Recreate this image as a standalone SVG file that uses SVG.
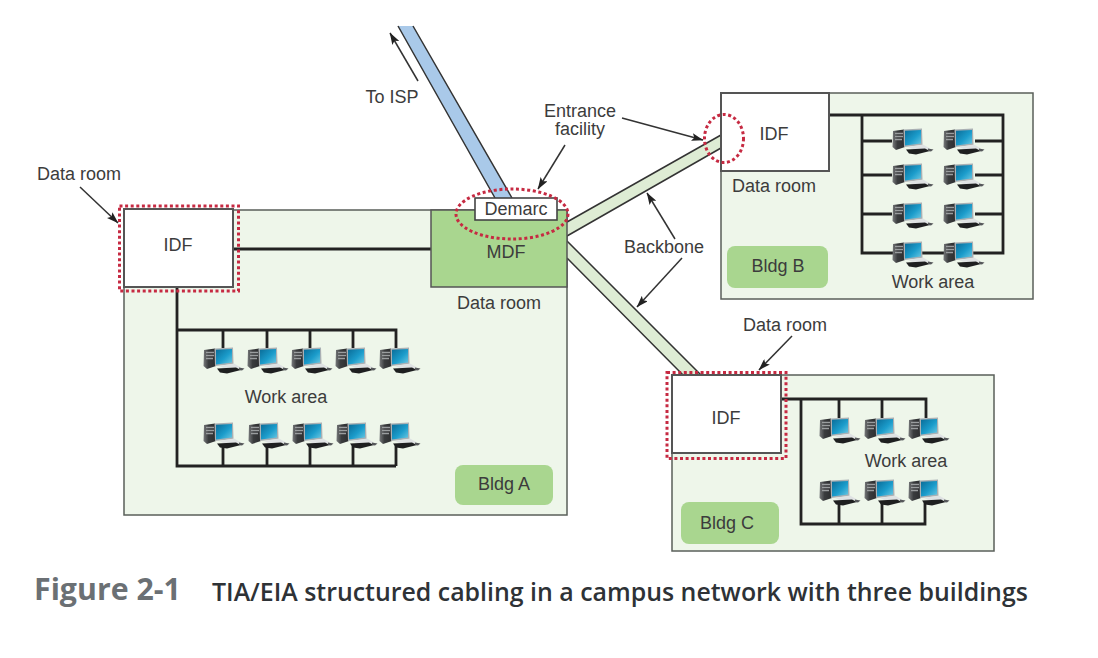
<svg xmlns="http://www.w3.org/2000/svg" xmlns:xlink="http://www.w3.org/1999/xlink" width="1098" height="658" viewBox="0 0 1098 658">
<style>
text{font-family:"Liberation Sans",Arial,sans-serif;font-size:18px;fill:#3c3c3c;text-anchor:middle}
.bldg{fill:#eef6ea;stroke:#5a5f5a;stroke-width:1.5}
.room{fill:#fff;stroke:#555;stroke-width:2}
.tag{fill:#a9d68f}
.bus{fill:none;stroke:#222;stroke-width:2.8}
.edge{stroke:#333;stroke-width:1.5;fill:none}
.arrow{stroke:#333;stroke-width:1.5;fill:none;marker-end:url(#ah)}
.dots{fill:none;stroke:#c62a42;stroke-width:3;stroke-dasharray:3 2.6}
.cap{font-family:"Open Sans","Noto Sans",sans-serif;text-anchor:start;font-weight:700}
</style>
<defs>
<marker id="ah" viewBox="0 0 12 8" refX="11.5" refY="4" markerWidth="12" markerHeight="8" markerUnits="userSpaceOnUse" orient="auto"><path d="M0 0L12 4L0 8L2.5 4Z" fill="#222"/></marker>
<linearGradient id="scr" x1="0" y1="0" x2="1" y2="1"><stop offset="0" stop-color="#0a6c98"/><stop offset="0.55" stop-color="#1b9ccb"/><stop offset="1" stop-color="#6cc9e3"/></linearGradient>
<linearGradient id="twr" x1="0" y1="0" x2="1" y2="0"><stop offset="0" stop-color="#77797b"/><stop offset="0.4" stop-color="#3a3c3e"/><stop offset="1" stop-color="#2c2d2f"/></linearGradient>
<g id="pc">
<path d="M1 3L12 1.500L13 19L4 22L0.500 19Z" fill="url(#twr)"/>
<path d="M3 5.500H11M3 8.500H11M3 11.500H10" stroke="#9a9d9f" stroke-width="1.300"/>
<path d="M11.500 1.500L30 0.500L30.500 17L12 19Z" fill="#aab0b4"/>
<path d="M13 2.800L29 2V15.500L13 17.500Z" fill="url(#scr)"/>
<path d="M16 19L31 16.500L38 20.500L26 23.500Z" fill="#dfe2e3"/>
<path d="M14 21.500L33 20.500L38 23L24 26.500L17 25.500Z" fill="#1e1f20"/>
<path d="M36 20.500L41.500 21.500L39 23.500L36 23Z" fill="#55575a"/>
</g>
</defs>
<rect width="1098" height="658" fill="#fff"/>

<g id="bldg-a"><rect class="bldg" x="124" y="210" width="443" height="305"/><rect class="tag" x="455" y="465" width="98" height="40" rx="8"/><text x="504" y="490">Bldg A</text><text x="499" y="309">Data room</text><text x="286" y="403">Work area</text></g>
<g id="bldg-b"><rect class="bldg" x="721" y="93" width="312" height="206"/><rect class="tag" x="727" y="246" width="101" height="42" rx="8"/><text x="778" y="272">Bldg B</text><text x="774" y="192">Data room</text><text x="933" y="288">Work area</text></g>
<g id="bldg-c"><rect class="bldg" x="672" y="375" width="322" height="176"/><rect class="tag" x="681" y="502" width="98" height="42" rx="8"/><text x="727" y="529">Bldg C</text><text x="906" y="467">Work area</text></g>

<g id="connectors">
<polygon points="398,26 413,26 512,198 495,198" fill="#a9c9e9"/>
<path class="edge" d="M398 26L495 198M413 26L512 198"/>
<polygon points="567,222 721,135 721,148 567,236" fill="#deecd4"/>
<path class="edge" d="M567 222L721 135M567 236L721 148"/>
<polygon points="567,241 701,375 683,375 567,258" fill="#deecd4"/>
<path class="edge" d="M567 241L701 375M567 258L683 375"/>
<path class="bus" d="M233 249H431"/>
<path class="bus" d="M177 287V466H396M223 466V445M267 466V445M310 466V445M353 466V445M396 466V445"/>
<path class="bus" d="M177 330H396V348M223 330V348M267 330V348M310 330V348M353 330V348"/>
<path class="bus" d="M829 115H1003V253H862V115M862 141H892M862 175H892M862 214H892M975 141H1003M975 175H1003M975 214H1003"/>
<path class="bus" d="M781 399H926V418M801 399V524H925V502M839 399V418M882 399V418M839 524V502M882 524V502"/>
<path class="arrow" d="M418 81L390 33"/>
<path class="arrow" d="M565 145L538 189"/>
<path class="arrow" d="M622 118L703 140"/>
<path class="arrow" d="M80 187L118 223"/>
<path class="arrow" d="M792 336L759 370"/>
<path class="arrow" d="M675 239L647 193"/>
<path class="arrow" d="M682 258L637 307"/>
</g>

<g id="idf-a"><rect class="room" x="124" y="209" width="109" height="78"/><text x="178" y="251">IDF</text></g>
<g id="mdf"><rect x="431" y="210" width="136" height="77" fill="#a9d68f" stroke="#555" stroke-width="1.5"/><text x="506" y="258">MDF</text></g>
<g id="demarc"><rect x="475" y="198" width="82" height="22" fill="#fff" stroke="#444" stroke-width="1.6"/><text x="516" y="215">Demarc</text></g>
<g id="idf-b"><rect class="room" x="721" y="93" width="108" height="78"/><text x="774" y="140">IDF</text></g>
<g id="idf-c"><rect class="room" x="672" y="375" width="109" height="78"/><text x="726" y="424">IDF</text></g>

<g id="workarea-a">
<use href="#pc" x="203" y="347"/><use href="#pc" x="247" y="347"/><use href="#pc" x="291" y="347"/><use href="#pc" x="335" y="347"/><use href="#pc" x="379" y="347"/>
<use href="#pc" x="203" y="422"/><use href="#pc" x="248" y="422"/><use href="#pc" x="292" y="422"/><use href="#pc" x="336" y="422"/><use href="#pc" x="379" y="422"/>
</g>
<g id="workarea-b">
<use href="#pc" x="892" y="128"/><use href="#pc" x="943" y="128"/><use href="#pc" x="892" y="163"/><use href="#pc" x="943" y="163"/><use href="#pc" x="892" y="202"/><use href="#pc" x="943" y="202"/><use href="#pc" x="892" y="241"/><use href="#pc" x="943" y="241"/>
</g>
<g id="workarea-c">
<use href="#pc" x="819" y="417"/><use href="#pc" x="864" y="417"/><use href="#pc" x="908" y="417"/><use href="#pc" x="819" y="479"/><use href="#pc" x="864" y="479"/><use href="#pc" x="908" y="479"/>
</g>

<g id="markers">
<rect class="dots" x="119.500" y="206" width="119" height="85"/>
<rect class="dots" x="667" y="372.500" width="119" height="86"/>
<ellipse class="dots" cx="512" cy="214" rx="56" ry="25"/>
<ellipse class="dots" cx="724" cy="138.500" rx="19.500" ry="24"/>
</g>

<g id="labels">
<text x="79" y="180">Data room</text>
<text x="392" y="103">To ISP</text>
<text x="580" y="117">Entrance</text>
<text x="580" y="135">facility</text>
<text x="664" y="253">Backbone</text>
<text x="785" y="331">Data room</text>
<text class="cap" x="34" y="600" style="font-size:30.300px;fill:#6b7074">Figure 2-1</text>
<text class="cap" x="212" y="601" style="font-size:24.900px;fill:#2e3236;font-weight:600">TIA/EIA structured cabling in a campus network with three buildings</text>
</g>
</svg>
